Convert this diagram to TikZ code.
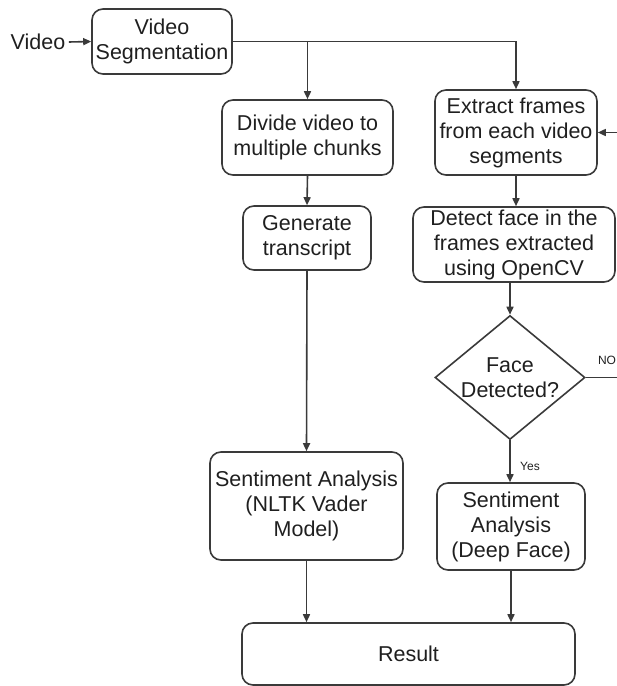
\documentclass[tikz,border=0pt]{standalone}
\usepackage{fontspec}
\setmainfont{Liberation Sans}
\usetikzlibrary{shapes.geometric,arrows.meta}
\definecolor{ln}{HTML}{3A3A3A}
\tikzset{
  box/.style={draw=ln, line width=1.6pt, rounded corners=11pt, align=center,
    font=\fontsize{21.5}{25}\selectfont, inner sep=2pt, text=black!88},
  dec/.style={draw=ln, line width=1.6pt, diamond, align=center, aspect=1.2,
    font=\fontsize{21.5}{25}\selectfont, inner sep=0pt, text=black!88},
  conn/.style={draw=ln, line width=1.6pt, -{Triangle[length=8pt,width=7pt]}},
  plain/.style={draw=ln, line width=1.6pt},
  small/.style={font=\fontsize{12}{14}\selectfont, text=black!88},
}
\begin{document}
\begin{tikzpicture}[x=1pt,y=-1pt]
\useasboundingbox (0,0) rectangle (617,686);
\node[font=\fontsize{21.5}{25}\selectfont, text=black!88] (vl) at (38,42) {Video};
\node[box, minimum width=140pt, minimum height=65pt] (vs) at (162,41.5) {Video\\Segmentation};
\node[box, minimum width=171pt, minimum height=75pt] (div) at (307.5,137.5) {Divide video to\\multiple chunks};
\node[box, minimum width=128pt, minimum height=64pt] (gen) at (307,238) {Generate\\transcript};
\node[box, minimum width=193pt, minimum height=108pt] (sa1) at (306.5,506) {Sentiment Analysis\\(NLTK Vader\\Model)};
\node[box, minimum width=162pt, minimum height=85pt] (ext) at (516,132.5) {Extract frames\\from each video\\segments};
\node[box, minimum width=202pt, minimum height=75pt] (det) at (514,244.5) {Detect face in the\\frames extracted\\using OpenCV};
\node[dec, minimum width=150pt, minimum height=124pt] (dia) at (510,377.5) {Face\\Detected?};
\node[box, minimum width=148pt, minimum height=87pt] (sa2) at (511,526.5) {Sentiment\\Analysis\\(Deep Face)};
\node[box, minimum width=333pt, minimum height=62pt] (res) at (408.5,654) {Result};
\coordinate (rin) at (617,132.5);
\coordinate (nout) at (617,377.5);
\coordinate (br) at (307.5,41.5);
\node[small] (no) at (607,360) {NO};
\node[small] (yes) at (530,466) {Yes};
% connectors
\draw[conn] (vl.east) -- (vs.west);
\draw[conn] (vs.east) -| (ext.north);
\draw[conn] (br) -- (div.north);
\draw[conn] (div.south) -- (gen.north);
\draw[conn] (gen.south) -- (sa1.north);
\draw[conn] (rin) -- (ext.east);
\draw[conn] (ext.south) -- (ext.south |- det.north);
\draw[conn] (dia.north |- det.south) -- (dia.north);
\draw[plain] (dia.east) -- (nout);
\draw[conn] (dia.south) -- (dia.south |- sa2.north);
\draw[conn] (sa1.south) -- (sa1.south |- res.north);
\draw[conn] (sa2.south) -- (sa2.south |- res.north);
\end{tikzpicture}
\end{document}
